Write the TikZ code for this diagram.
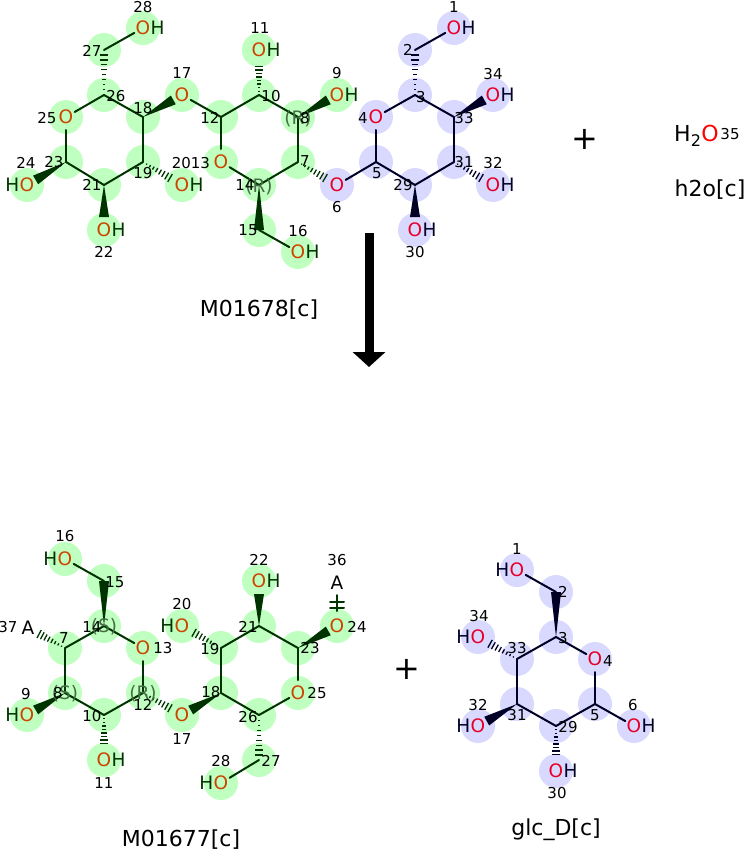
\documentclass[tikz,border=0pt]{standalone}
\usepackage{fontspec}
\setmainfont{DejaVu Sans}
\usetikzlibrary{calc,positioning,arrows.meta}
\definecolor{hlgreen}{RGB}{191,255,191}
\definecolor{hlblue}{RGB}{217,217,255}
\definecolor{gbond}{RGB}{0,51,0}
\definecolor{bbond}{RGB}{0,0,38}
\definecolor{ogreen}{RGB}{204,68,0}
\definecolor{oblue}{RGB}{230,0,40}
\definecolor{stereo}{RGB}{70,110,70}
\newcommand\atomfont{\fontsize{18.5}{18.5}\selectfont}
\newcommand\numfont{\fontsize{15}{15}\selectfont}
\newcommand\namefont{\fontsize{22}{22}\selectfont}
\newcommand\gat[2]{\node[hlg] (#1) at (#2) {};}
\newcommand\bat[2]{\node[hlb] (#1) at (#2) {};}
\newcommand\lab[3]{\node[numl] (n#1) at (#2) {#3};}
\newcommand\bnd[3][]{\draw[bond,#1] (#2.center) -- (#3.center);}
\newcommand\wdg[3][0pt]{\fill (#2.center) -- ($(#3.center)!#1!(#2.center)!5pt!90:(#2.center)$) -- ($(#3.center)!#1!(#2.center)!5pt!-90:(#2.center)$) -- cycle;}
\newcommand\hsh[3][0pt]{\coordinate (hq) at ($(#3.center)!#1!(#2.center)$);
  \foreach \q in {0.12,0.23,...,1}{\draw[hashl] ($(#2.center)!\q!(hq)!{\q*5pt}!90:(hq)$) -- ($(#2.center)!\q!(hq)!{\q*5pt}!-90:(hq)$);}}
\newcommand\Og[1]{\node[og] (#1o) at (#1) {O};}
\newcommand\OHg[1]{\Og{#1}\node[hg, base right=0pt of #1o] (#1h) {H};}
\newcommand\HOg[1]{\Og{#1}\node[hg, base left=0pt of #1o] (#1h) {H};}
\newcommand\Ob[1]{\node[ob] (#1o) at (#1) {O};}
\newcommand\OHb[1]{\Ob{#1}\node[hb, base right=0pt of #1o] (#1h) {H};}
\newcommand\HOb[1]{\Ob{#1}\node[hb, base left=0pt of #1o] (#1h) {H};}
\begin{document}
\begin{tikzpicture}[x=1pt,y=-1pt,
  hlg/.style={circle,fill=hlgreen,minimum size=34pt,inner sep=0pt},
  hlb/.style={circle,fill=hlblue,minimum size=34pt,inner sep=0pt},
  bond/.style={line width=2pt,line cap=round},
  hashl/.style={line width=1.3pt},
  numl/.style={font=\numfont,inner sep=0pt},
  stl/.style={font=\atomfont,inner sep=0pt,text=stereo},
  og/.style={font=\atomfont,inner sep=0pt,text=ogreen},
  hg/.style={font=\atomfont,inner sep=0pt,text=gbond},
  ob/.style={font=\atomfont,inner sep=0pt,text=oblue},
  hb/.style={font=\atomfont,inner sep=0pt,text=bbond},
  ttl/.style={font=\namefont,inner sep=0pt},
  plus/.style={font=\fontsize{32}{32}\selectfont,inner sep=0pt}]
\useasboundingbox (0,0) rectangle (745,851);
% M01678
\gat{a28}{143,28} \gat{a27}{104,50} \gat{a26}{104,95} \gat{a25}{66,117}
\gat{a18}{143,117} \gat{a17}{182,95} \gat{a12}{221,117} \gat{a23}{66,162}
\gat{a24}{27,185} \gat{a21}{104,185} \gat{a19}{143,162} \gat{a20}{182,185}
\gat{a22}{104,230} \gat{a13}{221,162} \gat{a10}{259,95} \gat{a11}{259,50}
\gat{a8}{298,117} \gat{a9}{337,95} \gat{a7}{298,162} \gat{a14}{259,185}
\gat{a15}{259,230} \gat{a16}{298,252}
\bat{a6}{337,185} \bat{a5}{376,162} \bat{a4}{376,117} \bat{a3}{415,95}
\bat{a2}{415,50} \bat{a1}{454,28} \bat{a33}{454,117} \bat{a34}{493,95}
\bat{a31}{454,162} \bat{a32}{493,185} \bat{a29}{415,185} \bat{a30}{415,230}
\begin{scope}[color=gbond]
\bnd[shorten <=10pt]{a28}{a27} \hsh{a26}{a27}
\bnd[shorten >=10pt]{a26}{a25} \bnd{a26}{a18}
\bnd[shorten <=13pt]{a25}{a23} \bnd{a23}{a21} \bnd{a21}{a19} \bnd{a19}{a18}
\wdg[10pt]{a18}{a17} \bnd[shorten <=10pt]{a17}{a12}
\wdg[10pt]{a23}{a24} \hsh[10pt]{a19}{a20} \wdg[13pt]{a21}{a22}
\bnd{a12}{a10} \bnd[shorten >=13pt]{a12}{a13} \bnd[shorten <=10pt]{a13}{a14}
\bnd{a14}{a7} \bnd{a7}{a8} \bnd{a8}{a10}
\hsh[13pt]{a10}{a11} \wdg[10pt]{a8}{a9} \hsh[10pt]{a7}{a6}
\wdg{a14}{a15} \bnd[shorten >=10pt]{a15}{a16}
\end{scope}
\begin{scope}[color=bbond]
\bnd[shorten <=10pt]{a6}{a5} \bnd[shorten >=13pt]{a5}{a4}
\bnd[shorten <=10pt]{a4}{a3} \bnd{a3}{a33} \bnd{a33}{a31} \bnd{a31}{a29} \bnd{a29}{a5}
\hsh{a3}{a2} \bnd[shorten >=10pt]{a2}{a1}
\wdg[10pt]{a33}{a34} \hsh[10pt]{a31}{a32} \wdg[13pt]{a29}{a30}
\end{scope}
\OHg{a28} \Og{a25} \Og{a17} \HOg{a24} \OHg{a20} \OHg{a22} \Og{a13}
\OHg{a11} \OHg{a9} \OHg{a16}
\Ob{a6} \Ob{a4} \OHb{a1} \OHb{a34} \OHb{a32} \OHb{a30}
\node[stl] (sa8) at (298,119) {(R)};
\node[stl] (sa14) at (259,187) {(R)};
\lab{a28}{143,7}{28} \lab{a27}{92,51}{27} \lab{a26}{116,96}{26}
\lab{a25}{47,118}{25} \lab{a18}{143,108}{18} \lab{a17}{182,73}{17}
\lab{a12}{210,118}{12} \lab{a23}{54,162}{23} \lab{a24}{26,163}{24}
\lab{a21}{92,185}{21} \lab{a19}{143,173}{19} \lab{a20}{181.5,163}{20}
\lab{a22}{104,252}{22} \lab{a13}{200.5,163}{13} \lab{a10}{271,96}{10}
\lab{a11}{260,28}{11} \lab{a8}{305,118}{8} \lab{a9}{337,73}{9}
\lab{a7}{305,161}{7} \lab{a14}{245,185}{14} \lab{a15}{248,230}{15}
\lab{a16}{298,231}{16} \lab{a6}{337,207}{6} \lab{a5}{377,173}{5}
\lab{a4}{363,118}{4} \lab{a3}{421,97}{3} \lab{a2}{408,50}{2}
\lab{a1}{454,7}{1} \lab{a33}{464,118}{33} \lab{a34}{493,74}{34}
\lab{a31}{464,162}{31} \lab{a32}{493,163}{32} \lab{a29}{403,185}{29}
\lab{a30}{415,252}{30}
\node[ttl] (m1) at (259,310) {M01678[c]};
% h2o
\node[plus] (plus1) at (585,139) {+};
\coordinate (w35) at (710,133);
\node[ttl,text=red] (w35o) at (w35) {O};
\node[ttl, base left=0pt of w35o] (w35h) {H\raisebox{-5pt}{\fontsize{16}{16}\selectfont 2}};
\node[numl] (nw35) at (730,134) {35};
\node[ttl] (m2) at (710,190) {h2o[c]};
% arrow
\coordinate (arrtop) at (369,233);
\coordinate (arrbot) at (369,367);
\draw[line width=9pt,-{Triangle[width=32pt,length=15pt]}] (arrtop) -- (arrbot);
% M01677
\gat{b16}{65,559} \gat{b15}{104,581} \gat{b14}{104,626} \gat{b7}{65,648}
\gat{b13}{143,648} \gat{b8}{65,693} \gat{b12}{143,693} \gat{b10}{104,715}
\gat{b9}{27,715} \gat{b11}{104,760} \gat{b17}{182,715} \gat{b18}{221,693}
\gat{b19}{221,648} \gat{b20}{182,626} \gat{b21}{259,626} \gat{b22}{259,581}
\gat{b23}{298,648} \gat{b24}{337,626} \gat{b25}{298,693} \gat{b26}{259,715}
\gat{b27}{259,760} \gat{b28}{221,783}
\coordinate (b37) at (28,628);
\coordinate (b36) at (337,583);
\begin{scope}[color=gbond]
\bnd[shorten <=10pt]{b16}{b15} \wdg{b14}{b15}
\bnd{b14}{b7} \bnd[shorten >=10pt]{b14}{b13} \bnd[shorten <=13pt]{b13}{b12}
\bnd{b12}{b10} \bnd{b10}{b8} \bnd{b8}{b7}
\hsh[9pt]{b7}{b37} \wdg[10pt]{b8}{b9} \hsh[13pt]{b10}{b11}
\hsh[10pt]{b12}{b17} \wdg[10pt]{b18}{b17} \hsh[10pt]{b19}{b20}
\bnd{b19}{b21} \bnd{b21}{b23} \bnd[shorten >=13pt]{b23}{b25}
\bnd[shorten <=10pt]{b25}{b26} \bnd{b26}{b18} \bnd{b18}{b19}
\wdg[13pt]{b21}{b22} \wdg[10pt]{b23}{b24}
\hsh{b26}{b27} \bnd[shorten >=10pt]{b27}{b28}
\draw[bond,shorten <=15pt,shorten >=12pt] (b24.center) -- (b36);
\draw[bond] ($(b24.center)!0.5!(b36)+(-7,-3)$) -- ++(14,0);
\draw[bond] ($(b24.center)!0.5!(b36)+(-7,3)$) -- ++(14,0);
\end{scope}
\HOg{b16} \Og{b13} \HOg{b9} \OHg{b11} \Og{b17} \HOg{b20} \OHg{b22}
\Og{b24} \Og{b25} \HOg{b28}
\node[font=\atomfont,inner sep=0pt] (b37a) at (b37) {A};
\node[font=\atomfont,inner sep=0pt] (b36a) at (b36) {A};
\node[stl] (sb14) at (104,627) {(S)};
\node[stl] (sb8) at (65,694) {(S)};
\node[stl] (sb12) at (143,694) {(R)};
\lab{b16}{65,536}{16} \lab{b15}{115,582}{15} \lab{b14}{92,627}{14}
\lab{b7}{64,638}{7} \lab{b37}{8,627}{37} \lab{b13}{163,648}{13}
\lab{b8}{58,693}{8} \lab{b12}{143,705}{12} \lab{b10}{92,716}{10}
\lab{b9}{26,694}{9} \lab{b11}{104,783}{11} \lab{b17}{182,739}{17}
\lab{b20}{182,604}{20} \lab{b19}{210,649}{19} \lab{b21}{248,627}{21}
\lab{b22}{259,560}{22} \lab{b23}{310,648}{23} \lab{b24}{357,627}{24}
\lab{b36}{337,560}{36} \lab{b18}{211,692}{18} \lab{b25}{317,693}{25}
\lab{b26}{248,717}{26} \lab{b27}{271,761}{27} \lab{b28}{221,761}{28}
\node[ttl] (m3) at (181,840) {M01677[c]};
\node[plus] (plus2) at (407,669) {+};
% glc_D
\bat{c1}{517,570} \bat{c2}{556,592} \bat{c3}{556,637} \bat{c4}{595,659}
\bat{c33}{517,659} \bat{c34}{478,637} \bat{c31}{517,704} \bat{c32}{478,726}
\bat{c5}{595,704} \bat{c6}{634,726} \bat{c29}{556,726} \bat{c30}{556,771}
\begin{scope}[color=bbond]
\bnd[shorten <=10pt]{c1}{c2} \wdg{c3}{c2}
\bnd[shorten >=10pt]{c3}{c4} \bnd[shorten <=13pt]{c4}{c5} \bnd{c5}{c29}
\bnd{c29}{c31} \bnd{c31}{c33} \bnd{c33}{c3}
\hsh[10pt]{c33}{c34} \wdg[10pt]{c31}{c32} \hsh[13pt]{c29}{c30}
\bnd[shorten >=10pt]{c5}{c6}
\end{scope}
\HOb{c1} \Ob{c4} \HOb{c34} \HOb{c32} \OHb{c6} \OHb{c30}
\lab{c1}{517,549}{1} \lab{c2}{563,592}{2} \lab{c3}{563,638}{3}
\lab{c4}{608,661}{4} \lab{c33}{517,648}{33} \lab{c34}{479,616}{34}
\lab{c31}{517,715}{31} \lab{c32}{478,705}{32} \lab{c5}{595,715}{5}
\lab{c6}{633,705}{6} \lab{c29}{568,727}{29} \lab{c30}{557,793}{30}
\node[ttl] (m4) at (556,830) {glc\_D[c]};
\end{tikzpicture}
\end{document}
